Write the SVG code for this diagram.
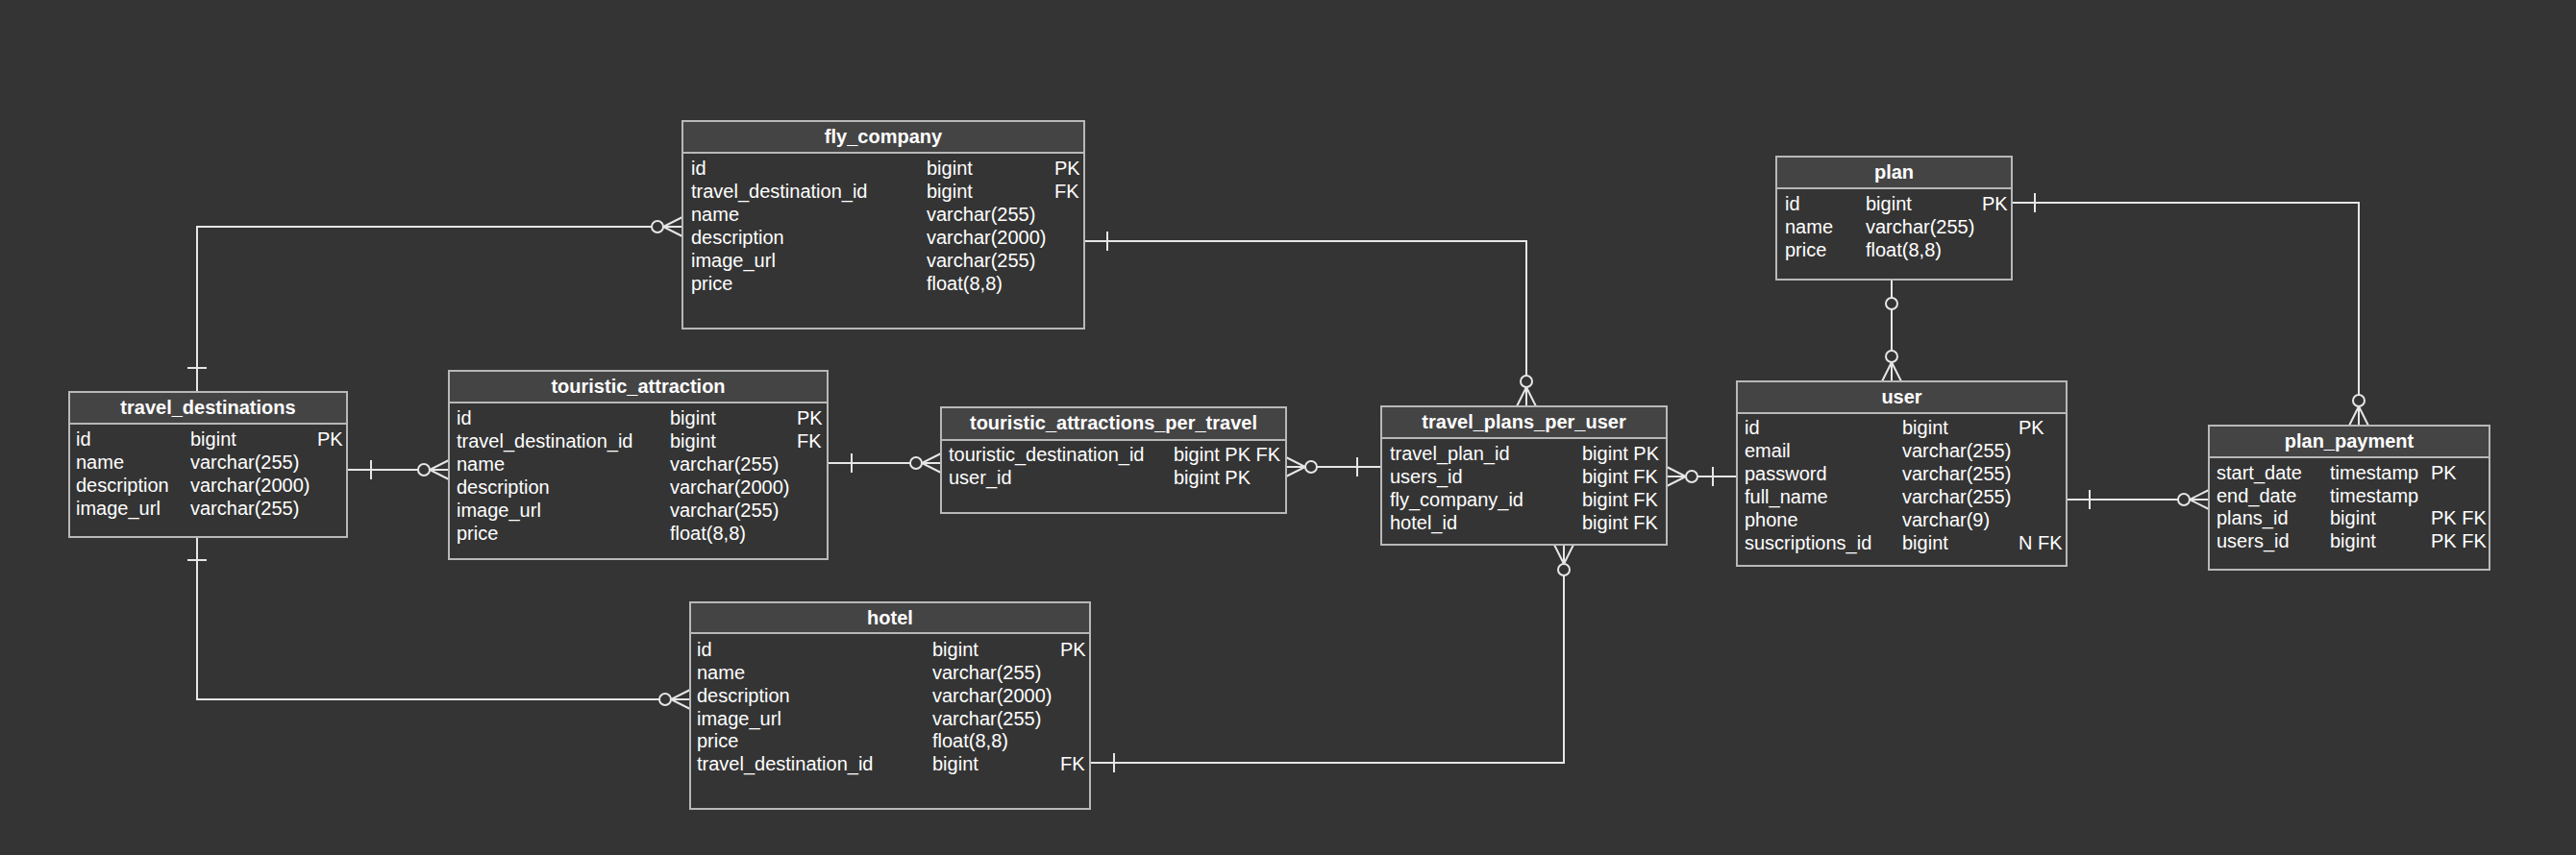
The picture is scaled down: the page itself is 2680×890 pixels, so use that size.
<svg xmlns="http://www.w3.org/2000/svg" width="2680" height="890" viewBox="0 0 2680 890">
<style>
.bg{fill:#343434}
.box{fill:#343434;stroke:#b8b8b8;stroke-width:2}
.hdr{fill:#444444;stroke:#b8b8b8;stroke-width:2}
.t{font-family:"Liberation Sans",Arial,sans-serif;font-size:20px;fill:#ffffff}
.h{font-family:"Liberation Sans",Arial,sans-serif;font-size:20px;font-weight:bold;fill:#ffffff;text-anchor:middle}
.ln{fill:none;stroke:#e6e6e6;stroke-width:2}
.c{fill:#343434;stroke:#e6e6e6;stroke-width:2}
</style>
<rect class="bg" x="0" y="0" width="2680" height="890"/>

<g id="connectors">
  <!-- travel_destinations -> fly_company -->
  <path class="ln" d="M205,408 V236 H710"/>
  <path class="ln" d="M195,383 H215"/>
  <path class="ln" d="M710,226 L690,236 L710,246 M710,236 H690"/>
  <circle class="c" cx="684" cy="236" r="6"/>

  <!-- travel_destinations -> touristic_attraction -->
  <path class="ln" d="M361,489 H467"/>
  <path class="ln" d="M386,479 V499"/>
  <path class="ln" d="M467,479 L447,489 L467,499"/>
  <circle class="c" cx="441" cy="489" r="6"/>

  <!-- touristic_attraction -> touristic_attractions_per_travel -->
  <path class="ln" d="M861,482 H979"/>
  <path class="ln" d="M886,472 V492"/>
  <path class="ln" d="M979,472 L959,482 L979,492"/>
  <circle class="c" cx="953" cy="482" r="6"/>

  <!-- touristic_attractions_per_travel -> travel_plans_per_user -->
  <path class="ln" d="M1338,486 H1437"/>
  <path class="ln" d="M1412,476 V496"/>
  <path class="ln" d="M1338,476 L1358,486 L1338,496"/>
  <circle class="c" cx="1364" cy="486" r="6"/>

  <!-- travel_plans_per_user -> user -->
  <path class="ln" d="M1734,496 H1807"/>
  <path class="ln" d="M1782,486 V506"/>
  <path class="ln" d="M1734,486 L1754,496 L1734,506"/>
  <circle class="c" cx="1760" cy="496" r="6"/>

  <!-- fly_company -> travel_plans_per_user -->
  <path class="ln" d="M1128,251 H1588 V423"/>
  <path class="ln" d="M1152,241 V261"/>
  <path class="ln" d="M1578,423 L1588,403 L1598,423"/>
  <circle class="c" cx="1588" cy="397" r="6"/>

  <!-- hotel -> travel_plans_per_user -->
  <path class="ln" d="M1134,794 H1627 V567"/>
  <path class="ln" d="M1159,784 V804"/>
  <path class="ln" d="M1617,567 L1627,587 L1637,567"/>
  <circle class="c" cx="1627" cy="593" r="6"/>

  <!-- travel_destinations -> hotel -->
  <path class="ln" d="M205,559 V728 H718"/>
  <path class="ln" d="M195,583 H215"/>
  <path class="ln" d="M718,718 L698,728 L718,738"/>
  <circle class="c" cx="692" cy="728" r="6"/>

  <!-- plan -> user -->
  <path class="ln" d="M1968,291 V397"/>
  <circle class="c" cx="1968" cy="316" r="6"/>
  <path class="ln" d="M1958,397 L1968,377 L1978,397"/>
  <circle class="c" cx="1968" cy="371" r="6"/>

  <!-- plan -> plan_payment -->
  <path class="ln" d="M2093,211 H2454 V443"/>
  <path class="ln" d="M2117,201 V221"/>
  <path class="ln" d="M2444,443 L2454,423 L2464,443"/>
  <circle class="c" cx="2454" cy="417" r="6"/>

  <!-- user -> plan_payment -->
  <path class="ln" d="M2150,520 H2298"/>
  <path class="ln" d="M2174,510 V530"/>
  <path class="ln" d="M2298,510 L2278,520 L2298,530"/>
  <circle class="c" cx="2272" cy="520" r="6"/>
</g>

<g id="fly_company">
  <rect class="box" x="710" y="126" width="418" height="216"/>
  <rect class="hdr" x="710" y="126" width="418" height="33"/>
  <text class="h" x="919" y="149">fly_company</text>
  <text class="t" x="719" y="182">id</text><text class="t" x="964" y="182">bigint</text><text class="t" x="1097" y="182">PK</text>
  <text class="t" x="719" y="206">travel_destination_id</text><text class="t" x="964" y="206">bigint</text><text class="t" x="1097" y="206">FK</text>
  <text class="t" x="719" y="230">name</text><text class="t" x="964" y="230">varchar(255)</text>
  <text class="t" x="719" y="254">description</text><text class="t" x="964" y="254">varchar(2000)</text>
  <text class="t" x="719" y="278">image_url</text><text class="t" x="964" y="278">varchar(255)</text>
  <text class="t" x="719" y="302">price</text><text class="t" x="964" y="302">float(8,8)</text>
</g>

<g id="travel_destinations">
  <rect class="box" x="72" y="408" width="289" height="151"/>
  <rect class="hdr" x="72" y="408" width="289" height="33"/>
  <text class="h" x="216.5" y="431">travel_destinations</text>
  <text class="t" x="79" y="464">id</text><text class="t" x="198" y="464">bigint</text><text class="t" x="330" y="464">PK</text>
  <text class="t" x="79" y="488">name</text><text class="t" x="198" y="488">varchar(255)</text>
  <text class="t" x="79" y="512">description</text><text class="t" x="198" y="512">varchar(2000)</text>
  <text class="t" x="79" y="536">image_url</text><text class="t" x="198" y="536">varchar(255)</text>
</g>

<g id="touristic_attraction">
  <rect class="box" x="467" y="386" width="394" height="196"/>
  <rect class="hdr" x="467" y="386" width="394" height="33"/>
  <text class="h" x="664" y="409">touristic_attraction</text>
  <text class="t" x="475" y="442">id</text><text class="t" x="697" y="442">bigint</text><text class="t" x="829" y="442">PK</text>
  <text class="t" x="475" y="466">travel_destination_id</text><text class="t" x="697" y="466">bigint</text><text class="t" x="829" y="466">FK</text>
  <text class="t" x="475" y="490">name</text><text class="t" x="697" y="490">varchar(255)</text>
  <text class="t" x="475" y="514">description</text><text class="t" x="697" y="514">varchar(2000)</text>
  <text class="t" x="475" y="538">image_url</text><text class="t" x="697" y="538">varchar(255)</text>
  <text class="t" x="475" y="562">price</text><text class="t" x="697" y="562">float(8,8)</text>
</g>

<g id="touristic_attractions_per_travel">
  <rect class="box" x="979" y="424" width="359" height="110"/>
  <rect class="hdr" x="979" y="424" width="359" height="34"/>
  <text class="h" x="1158.5" y="447">touristic_attractions_per_travel</text>
  <text class="t" x="987" y="480">touristic_destination_id</text><text class="t" x="1221" y="480">bigint PK FK</text>
  <text class="t" x="987" y="504">user_id</text><text class="t" x="1221" y="504">bigint PK</text>
</g>

<g id="hotel">
  <rect class="box" x="718" y="627" width="416" height="215"/>
  <rect class="hdr" x="718" y="627" width="416" height="32"/>
  <text class="h" x="926" y="650">hotel</text>
  <text class="t" x="725" y="683">id</text><text class="t" x="970" y="683">bigint</text><text class="t" x="1103" y="683">PK</text>
  <text class="t" x="725" y="707">name</text><text class="t" x="970" y="707">varchar(255)</text>
  <text class="t" x="725" y="731">description</text><text class="t" x="970" y="731">varchar(2000)</text>
  <text class="t" x="725" y="755">image_url</text><text class="t" x="970" y="755">varchar(255)</text>
  <text class="t" x="725" y="778">price</text><text class="t" x="970" y="778">float(8,8)</text>
  <text class="t" x="725" y="802">travel_destination_id</text><text class="t" x="970" y="802">bigint</text><text class="t" x="1103" y="802">FK</text>
</g>

<g id="travel_plans_per_user">
  <rect class="box" x="1437" y="423" width="297" height="144"/>
  <rect class="hdr" x="1437" y="423" width="297" height="33"/>
  <text class="h" x="1585.5" y="446">travel_plans_per_user</text>
  <text class="t" x="1446" y="479">travel_plan_id</text><text class="t" x="1646" y="479">bigint PK</text>
  <text class="t" x="1446" y="503">users_id</text><text class="t" x="1646" y="503">bigint FK</text>
  <text class="t" x="1446" y="527">fly_company_id</text><text class="t" x="1646" y="527">bigint FK</text>
  <text class="t" x="1446" y="551">hotel_id</text><text class="t" x="1646" y="551">bigint FK</text>
</g>

<g id="user">
  <rect class="box" x="1807" y="397" width="343" height="192"/>
  <rect class="hdr" x="1807" y="397" width="343" height="33"/>
  <text class="h" x="1978.5" y="420">user</text>
  <text class="t" x="1815" y="452">id</text><text class="t" x="1979" y="452">bigint</text><text class="t" x="2100" y="452">PK</text>
  <text class="t" x="1815" y="476">email</text><text class="t" x="1979" y="476">varchar(255)</text>
  <text class="t" x="1815" y="500">password</text><text class="t" x="1979" y="500">varchar(255)</text>
  <text class="t" x="1815" y="524">full_name</text><text class="t" x="1979" y="524">varchar(255)</text>
  <text class="t" x="1815" y="548">phone</text><text class="t" x="1979" y="548">varchar(9)</text>
  <text class="t" x="1815" y="572">suscriptions_id</text><text class="t" x="1979" y="572">bigint</text><text class="t" x="2100" y="572">N FK</text>
</g>

<g id="plan">
  <rect class="box" x="1848" y="163" width="245" height="128"/>
  <rect class="hdr" x="1848" y="163" width="245" height="33"/>
  <text class="h" x="1970.5" y="186">plan</text>
  <text class="t" x="1857" y="219">id</text><text class="t" x="1941" y="219">bigint</text><text class="t" x="2062" y="219">PK</text>
  <text class="t" x="1857" y="243">name</text><text class="t" x="1941" y="243">varchar(255)</text>
  <text class="t" x="1857" y="267">price</text><text class="t" x="1941" y="267">float(8,8)</text>
</g>

<g id="plan_payment">
  <rect class="box" x="2298" y="443" width="292" height="150"/>
  <rect class="hdr" x="2298" y="443" width="292" height="33"/>
  <text class="h" x="2444" y="466">plan_payment</text>
  <text class="t" x="2306" y="499">start_date</text><text class="t" x="2424" y="499">timestamp</text><text class="t" x="2529" y="499">PK</text>
  <text class="t" x="2306" y="523">end_date</text><text class="t" x="2424" y="523">timestamp</text>
  <text class="t" x="2306" y="546">plans_id</text><text class="t" x="2424" y="546">bigint</text><text class="t" x="2529" y="546">PK FK</text>
  <text class="t" x="2306" y="570">users_id</text><text class="t" x="2424" y="570">bigint</text><text class="t" x="2529" y="570">PK FK</text>
</g>
</svg>
